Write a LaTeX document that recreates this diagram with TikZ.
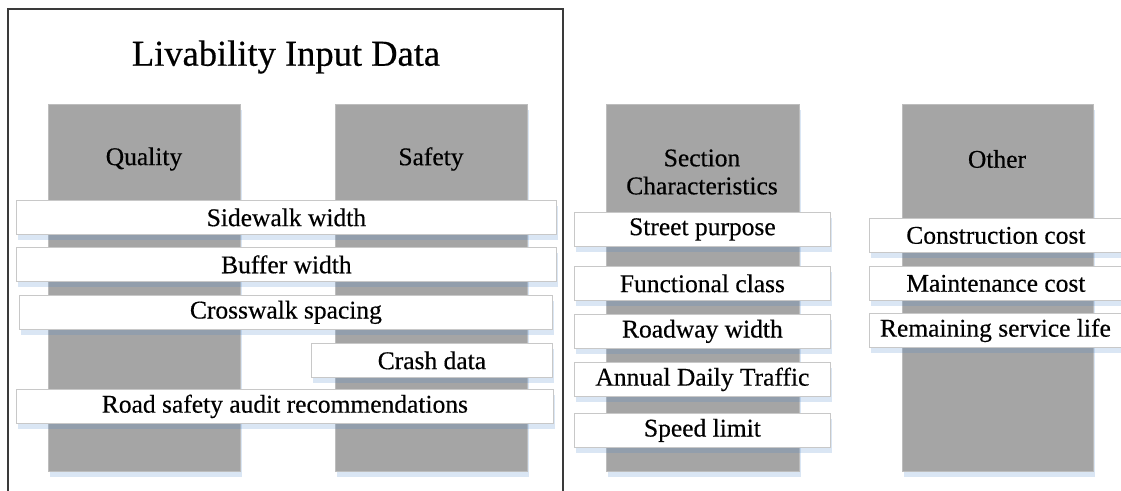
\documentclass[tikz,border=0pt]{standalone}
\usepackage{fontspec}
\setmainfont{Liberation Serif}[FakeBold=0.4]
\usetikzlibrary{shadows}
\definecolor{colgray}{HTML}{A5A5A5}
\definecolor{coledge}{HTML}{BDBDBD}
\definecolor{banedge}{HTML}{C8C8C8}
\definecolor{shadeblue}{RGB}{70,130,200}
\definecolor{framec}{HTML}{3A3A3A}
\tikzset{
  softshadow/.style={drop shadow={shadow xshift=2pt,shadow yshift=-6pt,fill=shadeblue,opacity=0.2}},
  column/.style={rectangle,fill=colgray,draw=coledge,line width=0.8pt,softshadow,inner sep=0pt,anchor=north west},
  banner/.style={rectangle,fill=white,draw=banedge,line width=0.8pt,softshadow,inner sep=0pt,anchor=north west,font=\fontsize{25.5}{28}\selectfont},
  label/.style={font=\fontsize{25.5}{28}\selectfont,align=center,text=black},
}
\begin{document}
\begin{tikzpicture}[x=1pt,y=-1pt]
\useasboundingbox (0,0) rectangle (1121,490);
% outer frame of the livability group (open at the bottom)
\draw[framec,line width=1.4pt] (8,492) -- (8,9) -- (563,9) -- (563,492);
\node[font=\fontsize{36.5}{40}\selectfont] (title) at (286,57) {Livability Input Data};

% category columns
\node[column,minimum width=192pt,minimum height=367pt] (quality) at (48,104) {};
\node[column,minimum width=192pt,minimum height=367pt] (safety) at (335,104) {};
\node[column,minimum width=193pt,minimum height=367pt] (section) at (606,104) {};
\node[column,minimum width=191pt,minimum height=367pt] (other) at (902,104) {};

\node[label] (qualitylab) at (144,159) {Quality};
\node[label] (safetylab) at (431,159) {Safety};
\node[label] (sectionlab) at (702,172) {Section\\Characteristics};
\node[label] (otherlab) at (997,159) {Other};

% livability input items
\node[banner,minimum width=540pt,minimum height=34pt] (sidewalk) at (16,200) {Sidewalk width};
\node[banner,minimum width=540pt,minimum height=34pt] (buffer) at (16,247) {Buffer width};
\node[banner,minimum width=533pt,minimum height=34pt] (crosswalk) at (19,295) {Crosswalk spacing};
\node[banner,minimum width=241pt,minimum height=34pt] (crash) at (311,343) {Crash data};
\node[banner,minimum width=537pt,minimum height=34pt] (rsa) at (16,389) {Road safety audit recommendations};

% section characteristics items
\node[banner,minimum width=256pt,minimum height=34pt] (purpose) at (574,212) {Street purpose};
\node[banner,minimum width=256pt,minimum height=34pt] (fclass) at (574,266) {Functional class};
\node[banner,minimum width=256pt,minimum height=34pt] (roadway) at (574,314) {Roadway width};
\node[banner,minimum width=256pt,minimum height=34pt] (adt) at (574,362) {Annual Daily Traffic};
\node[banner,minimum width=256pt,minimum height=34pt] (speed) at (574,413) {Speed limit};

% other items
\node[banner,minimum width=258pt,minimum height=34pt] (construction) at (869,218) {\hspace*{-5pt}Construction cost};
\node[banner,minimum width=258pt,minimum height=34pt] (maintenance) at (869,266) {\hspace*{-5pt}Maintenance cost};
\node[banner,minimum width=258pt,minimum height=34pt] (remaining) at (869,313) {\hspace*{-6pt}Remaining service life};
\end{tikzpicture}
\end{document}
